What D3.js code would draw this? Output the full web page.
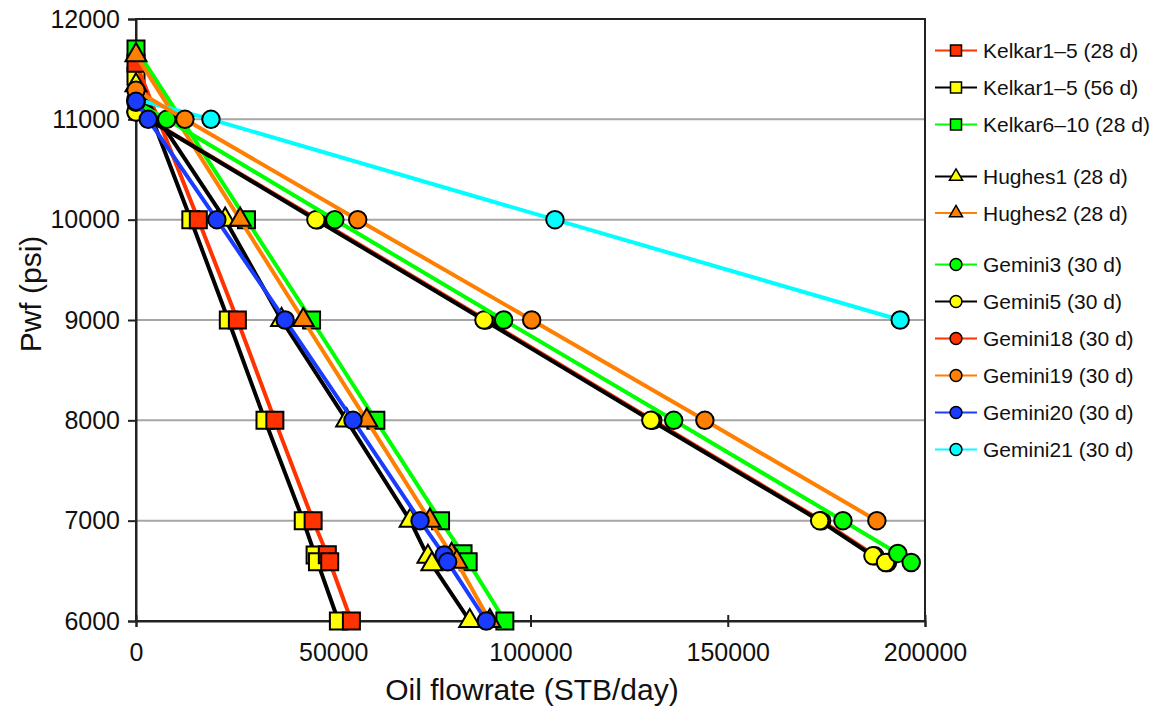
<!DOCTYPE html>
<html><head><meta charset="utf-8">
<script src="https://cdn.jsdelivr.net/npm/d3@7"></script>
<style>
body{margin:0;background:#fff;}
svg{display:block;font-family:"Liberation Sans",Arial,Helvetica,sans-serif;}
</style>
</head><body>
<svg id="chart" width="1161" height="712"></svg>
<script>
// ---------- data (flowrate STB/day, pressure psi) ----------
const seriesNames = ["Kelkar1\u20135 (28 d)","Kelkar1\u20135 (56 d)","Kelkar6\u201310 (28 d)",
  "Hughes1 (28 d)","Hughes2 (28 d)",
  "Gemini3 (30 d)","Gemini5 (30 d)","Gemini18 (30 d)","Gemini19 (30 d)","Gemini20 (30 d)","Gemini21 (30 d)"];

const kelkar15_28_q = [0, 15800, 25700, 35200, 44900, 48500, 49100, 54600];
const kelkar15_28_p = [11560, 10000, 9000, 8000, 7000, 6660, 6590, 6000];
const kelkar15_56_q = [0, 13900, 23400, 32700, 42400, 45400, 46000, 51300];
const kelkar15_56_p = [11430, 10000, 9000, 8000, 7000, 6657, 6590, 6000];
const kelkar610_q   = [0, 28000, 44500, 60800, 77200, 82900, 84200, 93500];
const kelkar610_p   = [11700, 10000, 9000, 8000, 7000, 6670, 6590, 6000];
const hughes1_q     = [0, 22600, 36900, 53400, 69500, 74000, 75000, 84600];
const hughes1_p     = [11340, 10000, 9000, 8000, 7000, 6640, 6565, 6000];
const hughes2_q     = [0, 26400, 42400, 58500, 74500, 80000, 81300, 89700];
const hughes2_p     = [11640, 10000, 9000, 8000, 7000, 6660, 6590, 6000];
const gemini3_q     = [0, 7800, 50400, 93200, 136300, 179200, 193100, 196500];
const gemini3_p     = [11170, 11000, 10000, 9000, 8000, 7000, 6673, 6583];
const gemini5_q     = [0, 45600, 88200, 130500, 173300, 186800, 190000];
const gemini5_p     = [11073, 10000, 9000, 8000, 7000, 6650, 6583];
const gemini18_q    = [0, 46100, 88700, 131000, 173800, 187300, 190500];
const gemini18_p    = [11075, 10000, 9000, 8000, 7000, 6650, 6583];
const gemini19_q    = [0, 12400, 56200, 100300, 144200, 187800];
const gemini19_p    = [11290, 11000, 10000, 9000, 8000, 7000];
const gemini20_q    = [0, 3100, 20500, 37800, 55000, 72000, 78100, 79000, 88800];
const gemini20_p    = [11180, 11000, 10000, 9000, 8000, 7000, 6657, 6590, 6000];
const gemini21_q    = [0, 19000, 106200, 193700];
const gemini21_p    = [11200, 11000, 10000, 9000];

const xTicks = [0, 50000, 100000, 150000, 200000];
const yTicks = [6000, 7000, 8000, 9000, 10000, 11000, 12000];
const gridTicks = [7000, 8000, 9000, 10000, 11000];

// ---------- styles ----------
const RED="#FF3300", YEL="#FFFF00", GRN="#00FF00", ORG="#FF7F00", BLU="#1A3CFF", CYA="#00FFFF", BLK="#000000";
const series = [
  {name:seriesNames[0], q:kelkar15_28_q, p:kelkar15_28_p, line:RED, fill:RED, shape:"square"},
  {name:seriesNames[1], q:kelkar15_56_q, p:kelkar15_56_p, line:BLK, fill:YEL, shape:"square"},
  {name:seriesNames[2], q:kelkar610_q,   p:kelkar610_p,   line:GRN, fill:GRN, shape:"square"},
  {name:seriesNames[3], q:hughes1_q,     p:hughes1_p,     line:BLK, fill:YEL, shape:"triangle"},
  {name:seriesNames[4], q:hughes2_q,     p:hughes2_p,     line:ORG, fill:ORG, shape:"triangle"},
  {name:seriesNames[5], q:gemini3_q,     p:gemini3_p,     line:GRN, fill:GRN, shape:"circle"},
  {name:seriesNames[6], q:gemini5_q,     p:gemini5_p,     line:BLK, fill:YEL, shape:"circle"},
  {name:seriesNames[7], q:gemini18_q,    p:gemini18_p,    line:RED, fill:RED, shape:"circle"},
  {name:seriesNames[8], q:gemini19_q,    p:gemini19_p,    line:ORG, fill:ORG, shape:"circle"},
  {name:seriesNames[9], q:gemini20_q,    p:gemini20_p,    line:BLU, fill:BLU, shape:"circle"},
  {name:seriesNames[10],q:gemini21_q,    p:gemini21_p,    line:CYA, fill:CYA, shape:"circle"}
];
// drawing order (bottom -> top)
const drawOrder = [1,0,2,3,4,10,7,6,5,8,9];
const legendY = [50.5, 87.5, 124.5, 176.5, 213, 264.5, 301.5, 338.5, 375.5, 412.5, 449.5];

const svg = d3.select("#chart");
const X0=136, X1=925, Y0=621, Y1=19;
const x = d3.scaleLinear().domain([0,200000]).range([X0,X1]);
const y = d3.scaleLinear().domain([6000,12000]).range([Y0,Y1]);

// gridlines
svg.append("g").selectAll("line").data(gridTicks).join("line")
  .attr("x1",X0).attr("x2",X1).attr("y1",d=>y(d)).attr("y2",d=>y(d))
  .attr("stroke","#A6A6A6").attr("stroke-width",2);

// frame
svg.append("rect").attr("x",X0).attr("y",Y1).attr("width",X1-X0).attr("height",Y0-Y1)
  .attr("fill","none").attr("stroke","#222").attr("stroke-width",2);

// axes
const yAxis = d3.axisLeft(y).tickValues(yTicks).tickFormat(d3.format("d")).tickSize(8).tickPadding(8);
const gy = svg.append("g").attr("transform",`translate(${X0},0)`).call(yAxis);
gy.select(".domain").attr("stroke","#222").attr("stroke-width",2);
gy.selectAll(".tick line").attr("stroke","#222").attr("stroke-width",2);
gy.selectAll(".tick text").attr("font-size",25).attr("fill","#111").attr("font-family","Liberation Sans, Arial, sans-serif");

const xAxis = d3.axisBottom(x).tickValues(xTicks).tickFormat(d3.format("d")).tickSize(6).tickPadding(16);
const gx = svg.append("g").attr("transform",`translate(0,${Y0})`).call(xAxis);
gx.select(".domain").attr("stroke","#222").attr("stroke-width",2);
gx.selectAll(".tick line").attr("stroke","#222").attr("stroke-width",2).attr("y1",-6);
gx.selectAll(".tick text").attr("font-size",25).attr("fill","#111").attr("font-family","Liberation Sans, Arial, sans-serif");

// axis titles
svg.append("text").attr("x",532).attr("y",700).attr("text-anchor","middle")
  .attr("font-size",30).attr("fill","#111").text("Oil flowrate (STB/day)");
svg.append("text").attr("transform","translate(41,294) rotate(-90)").attr("text-anchor","middle")
  .attr("font-size",30).attr("fill","#111").text("Pwf (psi)");

// marker helper
function symbolFor(shape, big){
  if(shape==="square") return d3.symbol(d3.symbolSquare, big?289:121)();
  if(shape==="triangle") return d3.symbol(d3.symbolTriangle, big?190:75)();
  return d3.symbol(d3.symbolCircle, big?240:110)();
}

const line = d3.line().x(d=>x(d[0])).y(d=>y(d[1]));
const plot = svg.append("g");
drawOrder.forEach(i=>{
  const s = series[i];
  const pts = s.q.map((q,k)=>[q, s.p[k]]);
  const g = plot.append("g");
  g.append("path").attr("d",line(pts)).attr("fill","none")
    .attr("stroke",s.line).attr("stroke-width",4).attr("stroke-linejoin","round");
  g.selectAll("path.m").data(pts).join("path").attr("class","m")
    .attr("d",symbolFor(s.shape,true))
    .attr("transform",d=>`translate(${x(d[0])},${y(d[1])})`)
    .attr("fill",s.fill).attr("stroke","#000").attr("stroke-width",2);
});

// legend
const lg = svg.append("g");
series.forEach((s,i)=>{
  const ly = legendY[i];
  lg.append("line").attr("x1",935).attr("x2",977).attr("y1",ly).attr("y2",ly)
    .attr("stroke",s.line).attr("stroke-width",2);
  lg.append("path").attr("d",symbolFor(s.shape,false)).attr("transform",`translate(956,${ly})`)
    .attr("fill",s.fill).attr("stroke","#000").attr("stroke-width",1.5);
  lg.append("text").attr("x",983).attr("y",ly).attr("dy","0.36em")
    .attr("font-size",21).attr("fill","#111").text(s.name);
});
</script>
</body></html>
